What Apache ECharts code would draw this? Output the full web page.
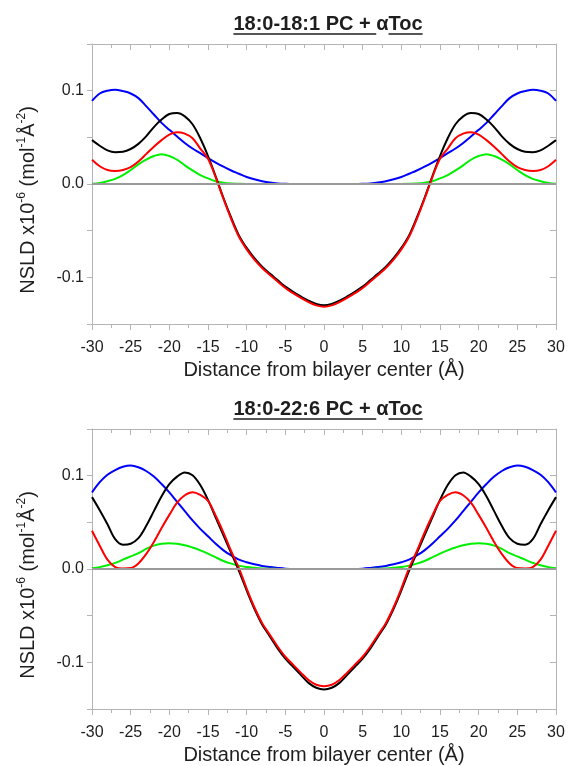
<!DOCTYPE html>
<html><head><meta charset="utf-8">
<script src="https://cdn.jsdelivr.net/npm/echarts@6/dist/echarts.min.js"></script>
<style>html,body{margin:0;padding:0;background:#fff}#c{width:569px;height:766px}</style>
</head><body><div id="c"></div>
<script>
// Distance from bilayer center (Å)
const distance = [-30,-29,-28,-27,-26,-25,-24,-23,-22,-21,-20,-19,-18,-17,-16,-15,-14,-13,-12,-11,-10,-9,-8,-7,-6,-5,-4,-3,-2,-1,0,1,2,3,4,5,6,7,8,9,10,11,12,13,14,15,16,17,18,19,20,21,22,23,24,25,26,27,28,29,30];

// Panel 1: 18:0-18:1 PC + aToc
const p1Black = [0.047,0.041,0.036,0.034,0.0345,0.0375,0.043,0.051,0.061,0.069,0.075,0.076,0.0725,0.064,0.049,0.030,0.008,-0.015,-0.036,-0.055,-0.0685,-0.0795,-0.0885,-0.096,-0.103,-0.110,-0.1155,-0.1205,-0.125,-0.1285,
  -0.130,
  -0.1285,-0.125,-0.1205,-0.1155,-0.110,-0.103,-0.096,-0.0885,-0.0795,-0.0685,-0.055,-0.036,-0.015,0.008,0.030,0.049,0.064,0.0725,0.076,0.075,0.069,0.061,0.051,0.043,0.0375,0.0345,0.034,0.036,0.041,0.047];
const p1Red = [0.026,0.019,0.015,0.014,0.015,0.018,0.024,0.032,0.040,0.047,0.053,0.0555,0.054,0.049,0.038,0.027,0.007,-0.016,-0.0375,-0.0565,-0.070,-0.081,-0.090,-0.0975,-0.1045,-0.1115,-0.117,-0.122,-0.1265,-0.130,
  -0.1315,
  -0.130,-0.1265,-0.122,-0.117,-0.1115,-0.1045,-0.0975,-0.090,-0.081,-0.070,-0.0565,-0.0375,-0.016,0.007,0.027,0.038,0.049,0.054,0.0555,0.053,0.047,0.040,0.032,0.024,0.018,0.015,0.014,0.015,0.019,0.026];
const p1Green = [0.0003,0.0012,0.003,0.0055,0.0095,0.015,0.021,0.026,0.030,0.032,0.030,0.026,0.020,0.0145,0.0095,0.006,0.003,0.0013,0.0005,0.0002,0,0,0,0,0,0,0,0,0,0,
  0,
  0,0,0,0,0,0,0,0,0,0,0.0002,0.0005,0.0013,0.003,0.006,0.0095,0.0145,0.020,0.026,0.030,0.032,0.030,0.026,0.021,0.015,0.0095,0.0055,0.003,0.0012,0.0003];
const p1Blue = [0.089,0.097,0.100,0.101,0.0995,0.097,0.092,0.0835,0.0745,0.0655,0.058,0.051,0.044,0.038,0.033,0.0278,0.023,0.0185,0.0145,0.011,0.0075,0.005,0.003,0.0015,0.0006,0.0002,0,0,0,0,
  0,
  0,0,0,0,0.0002,0.0006,0.0015,0.003,0.005,0.0075,0.011,0.0145,0.0185,0.023,0.0278,0.033,0.038,0.044,0.051,0.058,0.0655,0.0745,0.0835,0.092,0.097,0.0995,0.101,0.100,0.097,0.089];

// Panel 2: 18:0-22:6 PC + aToc
const p2Black = [0.077,0.063,0.048,0.032,0.026,0.027,0.033,0.046,0.062,0.078,0.091,0.099,0.1035,0.1005,0.090,0.074,0.055,0.036,0.017,-0.002,-0.023,-0.0426,-0.0595,-0.0722,-0.085,-0.096,-0.1047,-0.1134,-0.122,-0.1272,
  -0.129,
  -0.1272,-0.122,-0.1134,-0.1047,-0.096,-0.085,-0.0722,-0.0595,-0.0426,-0.023,-0.002,0.017,0.036,0.055,0.074,0.090,0.1005,0.1035,0.099,0.091,0.078,0.062,0.046,0.033,0.027,0.026,0.032,0.048,0.063,0.077];
const p2Red = [0.041,0.025,0.010,0.002,0.0005,0.001,0.006,0.016,0.029,0.044,0.058,0.071,0.079,0.0823,0.0795,0.073,0.057,0.039,0.019,0.001,-0.021,-0.041,-0.058,-0.0705,-0.083,-0.094,-0.1025,-0.111,-0.119,-0.124,
  -0.1255,
  -0.124,-0.119,-0.111,-0.1025,-0.094,-0.083,-0.0705,-0.058,-0.041,-0.021,0.001,0.019,0.039,0.057,0.073,0.0795,0.0823,0.079,0.071,0.058,0.044,0.029,0.016,0.006,0.001,0.0005,0.002,0.010,0.025,0.041];
const p2Green = [0.0007,0.002,0.004,0.0065,0.010,0.0135,0.017,0.0215,0.025,0.027,0.0277,0.027,0.0255,0.023,0.020,0.0165,0.0125,0.0086,0.0058,0.0036,0.0022,0.0013,0.0006,0.0003,0.0001,0,0,0,0,0,
  0,
  0,0,0,0,0,0.0001,0.0003,0.0006,0.0013,0.0022,0.0036,0.0058,0.0086,0.0125,0.0165,0.020,0.023,0.0255,0.027,0.0277,0.027,0.025,0.0215,0.017,0.0135,0.010,0.0065,0.004,0.002,0.0007];
const p2Blue = [0.082,0.093,0.101,0.106,0.1095,0.1108,0.109,0.105,0.099,0.091,0.082,0.072,0.062,0.052,0.043,0.035,0.027,0.020,0.0145,0.010,0.0072,0.005,0.0033,0.0021,0.0012,0.0004,0,0,0,0,
  0,
  0,0,0,0,0.0004,0.0012,0.0021,0.0033,0.005,0.0072,0.010,0.0145,0.020,0.027,0.035,0.043,0.052,0.062,0.072,0.082,0.091,0.099,0.105,0.109,0.1108,0.1095,0.106,0.101,0.093,0.082];

const panelTitles = ['18:0-18:1 PC + \u03b1Toc', '18:0-22:6 PC + \u03b1Toc'];
const xName = 'Distance from bilayer center (\u00c5)';
const xRange = {min: -30, max: 30, interval: 5};
const yRange = {min: -0.15, max: 0.15, interval: 0.05};
const yLabelValues = [-0.1, 0, 0.1];

const FONT = '"Liberation Sans", Arial, Helvetica, sans-serif';
const FRAME = '#b4b4b4';
const TXT = '#1e1e1e';
const seriesColors = {blue: '#0000ff', green: '#00f000', black: '#000000', red: '#ff0000'};

const panels = [
  {title: panelTitles[0], black: p1Black, red: p1Red, green: p1Green, blue: p1Blue},
  {title: panelTitles[1], black: p2Black, red: p2Red, green: p2Green, blue: p2Blue}
];
const gridTops = [44, 429];
const gridLeft = 92, gridW = 464, gridH = 280;
const TITLE_SIZE = 20;

const chart = echarts.init(document.getElementById('c'), null, {renderer: 'canvas'});

const grid = [], xAxis = [], yAxis = [], series = [], title = [], graphic = [];

const ctx = document.createElement('canvas').getContext('2d');
ctx.font = 'bold ' + TITLE_SIZE + 'px "Liberation Sans", Arial, sans-serif';

panels.forEach((p, gi) => {
  const top = gridTops[gi];
  grid.push({left: gridLeft, top: top, width: gridW, height: gridH, containLabel: false});
  const lineCommon = {show: true, onZero: false, lineStyle: {color: FRAME, width: 1}};
  xAxis.push({
    type: 'value', gridIndex: gi, position: 'bottom', min: xRange.min, max: xRange.max, interval: xRange.interval,
    axisLine: lineCommon,
    axisTick: {show: true, inside: false, length: 6, lineStyle: {color: FRAME}},
    minorTick: {show: true, splitNumber: 2, length: 4, lineStyle: {color: FRAME}},
    splitLine: {show: false},
    axisLabel: {show: true, margin: 16, fontSize: 16, fontFamily: FONT, color: TXT},
    name: xName, nameLocation: 'middle', nameGap: 36,
    nameTextStyle: {fontSize: 20, fontFamily: FONT, color: TXT}
  });
  xAxis.push({
    type: 'value', gridIndex: gi, position: 'top', min: xRange.min, max: xRange.max, interval: xRange.interval,
    axisLine: lineCommon,
    axisTick: {show: true, inside: true, length: 6, lineStyle: {color: FRAME}},
    minorTick: {show: true, splitNumber: 2, length: 4, lineStyle: {color: FRAME}},
    splitLine: {show: false}, axisLabel: {show: false}
  });
  yAxis.push({
    type: 'value', gridIndex: gi, position: 'left', min: yRange.min, max: yRange.max, interval: yRange.interval,
    axisLine: lineCommon,
    axisTick: {show: true, inside: false, length: 5, lineStyle: {color: FRAME}},
    splitLine: {show: false},
    axisLabel: {
      show: true, margin: 8, fontSize: 16, fontFamily: FONT, color: TXT,
      formatter: v => {
        const hit = yLabelValues.find(t => Math.abs(t - v) < 1e-6);
        return hit === undefined ? '' : hit.toFixed(1);
      }
    },
    name: '{a|NSLD x10}{s|-6}{a| (mol}{s|-1}{a|\u00c5}{s|-2}{a|)}',
    nameLocation: 'middle', nameGap: 52,
    nameTextStyle: {
      fontSize: 20, fontFamily: FONT, color: TXT,
      padding: [0, 32, 0, 0],
      rich: {
        a: {fontSize: 20, fontFamily: FONT, color: TXT, lineHeight: 24},
        s: {fontSize: 12, fontFamily: FONT, color: TXT, verticalAlign: 'top', lineHeight: 24}
      }
    }
  });
  yAxis.push({
    type: 'value', gridIndex: gi, position: 'right', min: yRange.min, max: yRange.max, interval: yRange.interval,
    axisLine: lineCommon,
    axisTick: {show: true, inside: true, length: 6, lineStyle: {color: FRAME}},
    splitLine: {show: false}, axisLabel: {show: false}
  });
  const xi = gi * 2, yi = gi * 2;
  series.push({
    type: 'line', xAxisIndex: xi, yAxisIndex: yi, data: [], silent: true, z: 1,
    markLine: {
      silent: true, symbol: 'none', label: {show: false},
      lineStyle: {color: '#9a9a9a', width: 2, type: 'solid'},
      data: [{yAxis: 0}]
    }
  });
  ['blue', 'green', 'black', 'red'].forEach(k => {
    series.push({
      type: 'line', name: k, xAxisIndex: xi, yAxisIndex: yi, z: 3,
      data: distance.map((x, i) => [x, p[k][i]]),
      showSymbol: false, smooth: 0.35, animation: false,
      lineStyle: {color: seriesColors[k], width: 2},
      itemStyle: {color: seriesColors[k]}
    });
  });
  const cx = gridLeft + gridW / 2 + 4;
  const titleTop = top - 30;
  title.push({
    text: p.title, left: cx, top: titleTop, textAlign: 'center', padding: 0,
    textStyle: {fontSize: TITLE_SIZE, fontWeight: 'bold', fontFamily: FONT, color: TXT, lineHeight: 21}
  });
  // underline (alpha glyph left without underline as in the reference)
  const wAll = ctx.measureText(p.title).width;
  const idxA = p.title.indexOf('\u03b1');
  const wPre = ctx.measureText(p.title.slice(0, idxA)).width;
  const wPreA = ctx.measureText(p.title.slice(0, idxA + 1)).width;
  const x0 = cx - wAll / 2;
  const uy = titleTop + 20;
  graphic.push({type: 'line', shape: {x1: x0, y1: uy, x2: x0 + wPre, y2: uy}, style: {stroke: TXT, lineWidth: 1.5}, silent: true});
  graphic.push({type: 'line', shape: {x1: x0 + wPreA, y1: uy, x2: x0 + wAll, y2: uy}, style: {stroke: TXT, lineWidth: 1.5}, silent: true});
});

chart.setOption({
  backgroundColor: '#ffffff',
  animation: false,
  title, grid, xAxis, yAxis, series, graphic
});
</script>
</body></html>
